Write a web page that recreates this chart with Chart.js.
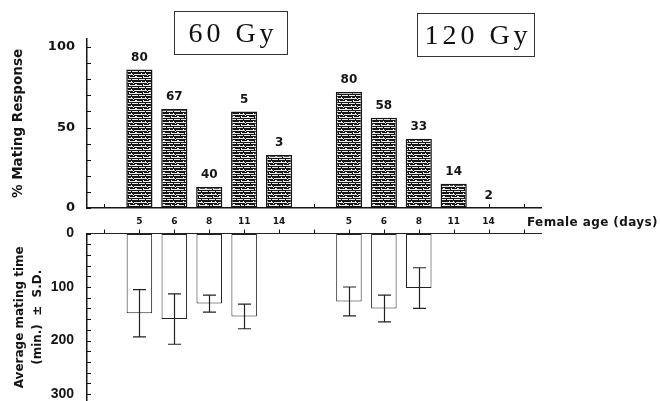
<!DOCTYPE html>
<html>
<head>
<meta charset="utf-8">
<script src="https://cdn.jsdelivr.net/npm/chart.js@4/dist/chart.umd.min.js"></script>
<style>
  html, body { margin: 0; padding: 0; background: #fff; }
  #wrap { position: relative; width: 660px; height: 401px; overflow: hidden; }
  canvas { position: absolute; left: 0; }
  #cTop { top: 0; }
  #cBot { top: 215px; }
  .dose {
    position: absolute; box-sizing: border-box; border: 1px solid #333;
    font-family: "Liberation Serif", serif; font-size: 28px; letter-spacing: 4px;
    padding-left: 4px; color: #111;
    display: flex; align-items: center; justify-content: center;
  }
</style>
</head>
<body>
<div id="wrap">
  <canvas id="cTop" width="660" height="232"></canvas>
  <canvas id="cBot" width="660" height="186"></canvas>
  <div class="dose" style="left:174px;top:11px;width:114px;height:44px;">60 Gy</div>
  <div class="dose" style="left:417px;top:13px;width:118px;height:44px;">120 Gy</div>
</div>
<script>
// Female age groups (days)
const ages = ['5', '6', '8', '11', '14'];

// % mating response per age group
const response60 = [86, 61.5, 13, 60, 33];
const response120 = [72, 56, 43, 15, 0];

// number of females tested per age group
const n60 = [80, 67, 40, 5, 3];
const n120 = [80, 58, 33, 14, 2];

// average mating time (min.) and S.D.
const time60 = [149, 160, 131, 155, null];
const sd60 = [44, 47, 16, 23, null];
const time120 = [127, 140, 102, null, null];
const sd120 = [27, 25, 38, null, null];

// labelled ticks
const responseTicks = [0, 50, 100];
const timeTicks = [0, 100, 200, 300];

// one empty slot before, between and after the two dose groups
const joinGroups = (a, b) => [null, ...a, null, ...b, null];
const labels = ['', ...ages, '', ...ages, ''];

const INK = '#151515';
const boldSans = (size) => ({ family: '"DejaVu Sans", sans-serif', weight: 'bold', size });

// evenly spaced tick marks from 0 up to `top`
const tickRun = (step, top) => {
  const out = [];
  for (let v = 0; v <= top; v += step) out.push({ value: v });
  return out;
};

// fixed axis width; no extra room reserved for the end labels
const fitYAxis = (s) => {
  s.width = 87;
  s.paddingTop = 0;
  s.paddingBottom = 0;
};

// horizontal-hatch fill for the response bars
function hatchPattern(ctx) {
  const rows = [
    '##############',
    '#.###.########',
    '.......#......',
    '#######.######',
    '###.#####..###',
    '..#...........',
    '##############',
    '.....#......#.',
  ];
  const tile = document.createElement('canvas');
  tile.width = rows[0].length;
  tile.height = rows.length;
  const g = tile.getContext('2d');
  g.fillStyle = '#e8e8e8';
  g.fillRect(0, 0, tile.width, tile.height);
  g.fillStyle = '#161616';
  rows.forEach((r, y) => [...r].forEach((ch, x) => { if (ch === '#') g.fillRect(x, y, 1, 1); }));
  return ctx.createPattern(tile, 'repeat');
}

// short tick marks drawn on the inner side of both axes
const innerTicks = {
  id: 'innerTicks',
  afterDraw(chart, args, opts) {
    const { ctx, chartArea: a, scales: { x, y } } = chart;
    ctx.save();
    ctx.strokeStyle = INK;
    ctx.lineWidth = 1;
    ctx.beginPath();
    y.ticks.forEach((t, i) => {
      const py = Math.round(y.getPixelForTick(i)) + 0.5;
      ctx.moveTo(a.left, py);
      ctx.lineTo(a.left + 4, py);
    });
    const base = opts.side === 'top' ? a.top : a.bottom;
    x.ticks.forEach((t, i) => {
      const px = Math.round(x.getPixelForTick(i)) + 0.5;
      ctx.moveTo(px, base);
      ctx.lineTo(px, base - 4);
    });
    ctx.stroke();
    ctx.restore();
  }
};

// sample sizes above the response bars, plus the x axis caption
const countLabels = {
  id: 'countLabels',
  afterDatasetsDraw(chart) {
    const { ctx, chartArea: a } = chart;
    const counts = joinGroups(n60, n120);
    const meta = chart.getDatasetMeta(0);
    ctx.save();
    ctx.fillStyle = INK;
    ctx.font = 'bold 12px "DejaVu Sans"';
    ctx.textAlign = 'center';
    ctx.textBaseline = 'middle';
    meta.data.forEach((bar, i) => {
      if (counts[i] == null) return;
      ctx.fillText(String(counts[i]), bar.x, bar.y - 12);
    });
    ctx.textAlign = 'left';
    ctx.letterSpacing = '0.4px';
    ctx.fillText('Female age (days)', a.right - 14, a.bottom + 15);
    ctx.restore();
  }
};

// ± S.D. whiskers on the mating-time bars
const errorBars = {
  id: 'errorBars',
  afterDatasetsDraw(chart) {
    const { ctx, scales: { y } } = chart;
    const means = joinGroups(time60, time120);
    const sds = joinGroups(sd60, sd120);
    const meta = chart.getDatasetMeta(0);
    ctx.save();
    ctx.strokeStyle = '#222';
    ctx.lineWidth = 1.2;
    meta.data.forEach((bar, i) => {
      if (means[i] == null || sds[i] == null) return;
      const x = Math.round(bar.x) + 0.5;
      const y1 = y.getPixelForValue(means[i] - sds[i]);
      const y2 = y.getPixelForValue(means[i] + sds[i]);
      ctx.beginPath();
      ctx.moveTo(x, y1); ctx.lineTo(x, y2);
      ctx.moveTo(x - 6.5, y1); ctx.lineTo(x + 6.5, y1);
      ctx.moveTo(x - 6.5, y2); ctx.lineTo(x + 6.5, y2);
      ctx.stroke();
    });
    ctx.restore();
  }
};

const plainGrid = { display: true, drawOnChartArea: false, drawTicks: false };

// upper panel: % mating response
const topCanvas = document.getElementById('cTop');
new Chart(topCanvas, {
  type: 'bar',
  data: {
    labels,
    datasets: [{
      data: joinGroups(response60, response120),
      backgroundColor: hatchPattern(topCanvas.getContext('2d')),
      borderColor: INK,
      borderWidth: 1.5,
      borderSkipped: false,
      categoryPercentage: 1,
      barPercentage: 0.75
    }]
  },
  options: {
    responsive: false,
    animation: false,
    events: [],
    layout: { autoPadding: false, padding: { top: 39, right: 119, left: 0, bottom: 0 } },
    plugins: { legend: { display: false }, tooltip: { enabled: false }, innerTicks: { side: 'bottom' } },
    scales: {
      x: {
        grid: plainGrid,
        border: { color: INK, width: 1.5 },
        ticks: { font: boldSans(9), color: INK, padding: 8, autoSkip: false, maxRotation: 0 },
        afterFit: (s) => { s.height = 24; }
      },
      y: {
        min: 0, max: 105,
        afterBuildTicks: (s) => { s.ticks = tickRun(10, 100); },
        ticks: {
          autoSkip: false,
          callback: (v) => responseTicks.includes(v) ? v : '',
          font: boldSans(13), color: INK, padding: 12
        },
        grid: plainGrid,
        border: { color: INK, width: 1.5 },
        title: { display: true, text: '% Mating Response', font: boldSans(13.5), color: INK, padding: { top: 10, bottom: 0 } },
        afterFit: fitYAxis
      }
    }
  },
  plugins: [innerTicks, countLabels]
});

// lower panel: average mating time, drawn downward from the shared age axis
new Chart(document.getElementById('cBot'), {
  type: 'bar',
  data: {
    labels,
    datasets: [{
      data: joinGroups(time60, time120),
      backgroundColor: '#fff',
      borderColor: '#222',
      borderWidth: 1,
      borderSkipped: false,
      categoryPercentage: 1,
      barPercentage: 0.73
    }]
  },
  options: {
    responsive: false,
    animation: false,
    events: [],
    layout: { autoPadding: false, padding: { top: 0, right: 119, left: 0, bottom: 0 } },
    plugins: { legend: { display: false }, tooltip: { enabled: false }, innerTicks: { side: 'top' } },
    scales: {
      x: {
        position: 'top',
        grid: plainGrid,
        border: { color: '#222', width: 1 },
        ticks: { display: false },
        afterFit: (s) => { s.height = 18.5; }
      },
      y: {
        reverse: true,
        min: 0, max: 313,
        afterBuildTicks: (s) => { s.ticks = tickRun(20, 300); },
        ticks: {
          autoSkip: false,
          callback: (v) => timeTicks.includes(v) ? v : '',
          font: { family: '"Liberation Sans", sans-serif', weight: 'bold', size: 14 },
          color: INK, padding: 13
        },
        grid: plainGrid,
        border: { color: INK, width: 1.5 },
        title: {
          display: true,
          text: ['Average mating time', '(min.)  \u00b1  S.D.'],
          font: { family: '"DejaVu Sans", sans-serif', weight: 'bold', size: 12, lineHeight: 1.5 },
          color: INK, padding: { top: 11, bottom: 0 }
        },
        afterFit: fitYAxis
      }
    }
  },
  plugins: [innerTicks, errorBars]
});
</script>
</body>
</html>
